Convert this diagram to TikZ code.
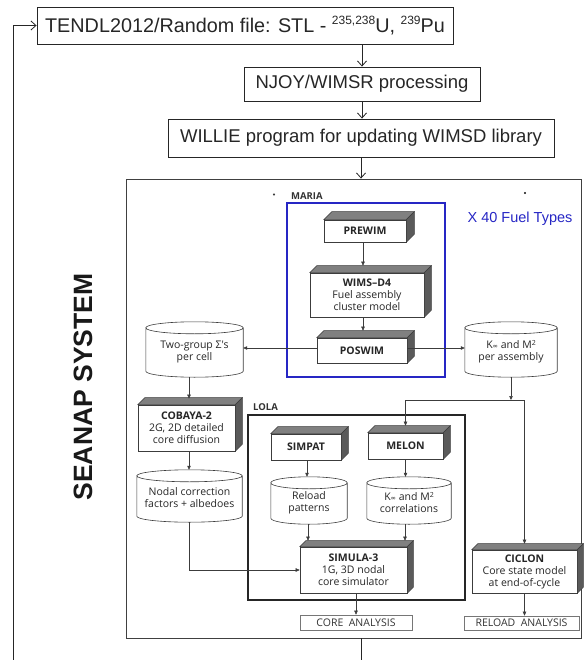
\documentclass[tikz,border=0pt]{standalone}
\usepackage{fontspec}
\setmainfont{Liberation Sans}
\newfontfamily\scanfont{Open Sans}
\newfontfamily\symfont{DejaVu Sans}
\usetikzlibrary{arrows.meta,calc}
\definecolor{mblue}{RGB}{38,38,196}
\definecolor{scanline}{RGB}{60,60,60}
\definecolor{topshade}{RGB}{128,128,128}
\definecolor{sideshade}{RGB}{90,90,90}
\newcommand{\kinf}{K{\symfont\fontsize{6.5}{7}\selectfont\raisebox{-0.5pt}{∞}}}
\newcommand{\msq}{M{\fontsize{7}{7}\selectfont\raisebox{2.5pt}{2}}}
\newcommand{\boxshade}[2][7]{%
  \filldraw[fill=topshade,draw=scanline,line width=0.5pt] (#2.north west) -- ++(#1,-#1) -- ($(#2.north east)+(#1,-#1)$) -- (#2.north east) -- cycle;
  \filldraw[fill=sideshade,draw=scanline,line width=0.5pt] (#2.north east) -- ++(#1,-#1) -- ($(#2.south east)+(#1,-#1)$) -- (#2.south east) -- cycle;}
\newcommand{\cylout}[1]{%
  \draw[draw=scanline,line width=0.6pt] let \p1=(#1.north west), \p2=(#1.south east), \n1={0.5*(\x2-\x1)} in
    ({\x1+\n1*1pt},{\y1-6pt}) ellipse [x radius={\n1*1pt}, y radius=6pt]
    (\x1,{\y1-6pt}) -- (\x1,{\y2+6pt}) arc[start angle=180, end angle=360, x radius={\n1*1pt}, y radius=6pt] -- (\x2,{\y1-6pt});}
\begin{document}
\begin{tikzpicture}[x=1pt,y=-1pt,
  topbox/.style={draw=black!85, line width=0.9pt, inner sep=0pt, font=\fontsize{18.5}{20}\selectfont, text=black!85},
  toparrow/.style={draw=black!85, line width=0.8pt, -{Straight Barb[length=5pt,width=9pt]}},
  scanbox/.style={draw=scanline, line width=0.6pt, fill=white, inner sep=0pt, align=center, font=\scanfont\fontsize{10.5}{12}\selectfont, text=black!85},
  cylnode/.style={inner sep=0pt, align=center, font=\scanfont\fontsize{10.5}{12}\selectfont, text=black!85},
  outbox/.style={draw=scanline!70, line width=0.6pt, inner sep=0pt, font=\scanfont\fontsize{10.5}{12}\selectfont, text=black!80},
  scanarrow/.style={draw=scanline, line width=0.5pt, -{Triangle[length=4pt,width=3.5pt]}},
  scanline/.style={draw=scanline, line width=0.5pt},
  lab/.style={font=\scanfont\bfseries\fontsize{9.5}{10}\selectfont, text=black!80, inner sep=0pt, anchor=west}]
\useasboundingbox (0,0) rectangle (584,660);

% top chain
\node[topbox, minimum width=416pt, minimum height=37pt, font=\fontsize{19.8}{21}\selectfont] (tendl) at (245,25.5)
  {TENDL2012/Random file: STL - \raisebox{0.42em}{\fontsize{12}{12}\selectfont 235,238}U, \raisebox{0.42em}{\fontsize{12}{12}\selectfont 239}Pu};
\node[topbox, minimum width=236pt, minimum height=34pt] (njoy) at (362,84) {NJOY/WIMSR processing};
\node[topbox, minimum width=386pt, minimum height=38pt] (willie) at (361,138) {WILLIE program for updating WIMSD library};

% SEANAP frame
\node[draw=black!75, line width=0.9pt, minimum width=455pt, minimum height=459pt, inner sep=0pt] (seanap) at (353.5,408.5) {};
\node[rotate=90, font=\bfseries\fontsize{26.5}{28}\selectfont, text=black!90] (seanaptxt) at (83,387) {SEANAP SYSTEM};

\draw[toparrow] (njoy.north |- tendl.south) -- (njoy.north);
\draw[toparrow] (njoy.south) -- (njoy.south |- willie.north);
\draw[toparrow] (willie.south) -- (willie.south |- seanap.north);
\coordinate (fbcorner) at (13,668);
\draw[toparrow] (willie.south |- seanap.south) -- (willie.south |- fbcorner) -- (fbcorner) |- (tendl.west);

% scan marks
\fill[scanline] (274,194.5) circle (0.8);
\fill[scanline] (525,193) circle (0.8);

% MARIA
\node[lab] (marialab) at (291,196) {MARIA};
\node[draw=mblue, line width=2.6pt, minimum width=158pt, minimum height=174pt, inner sep=0pt] (maria) at (366,290) {};
\node[text=mblue, font=\fontsize{14.5}{16}\selectfont, inner sep=0pt] (x40) at (520,219) {X 40 Fuel Types};

\node[scanbox, minimum width=82pt, minimum height=22pt] (prewim) at (365,231) {\bfseries PREWIM};
\boxshade[8]{prewim}
\node[scanbox, minimum width=114pt, minimum height=44pt] (wims) at (367,295) {\bfseries WIMS–D4\\Fuel assembly\\cluster model};
\boxshade[7]{wims}
\node[scanbox, minimum width=90pt, minimum height=25pt] (poswim) at (362,350.5) {\bfseries POSWIM};
\boxshade[7]{poswim}

\draw[scanarrow] (prewim.south -| 363,0) -- ($(363,0 |- wims.north)+(0,-7)$);
\draw[scanarrow] (wims.south -| 363,0) -- ($(363,0 |- poswim.north)+(0,-7)$);

\node[cylnode, minimum width=97pt, minimum height=55pt] (two) at (194.5,349.5) {\\Two-group Σ's\\per cell};
\cylout{two}
\node[cylnode, minimum width=92pt, minimum height=55pt] (kinf) at (511,349.5) {\\\kinf\ and \msq\\per assembly};
\cylout{kinf}
\draw[scanarrow] (poswim.west |- 0,348) -- (two.east |- 0,348);
\draw[scanarrow] (poswim.east |- 0,348) -- (kinf.west |- 0,348);

% COBAYA branch
\node[scanbox, minimum width=97pt, minimum height=46pt] (cobaya) at (186.5,428) {\bfseries COBAYA-2\\2G, 2D detailed\\core diffusion};
\boxshade[7]{cobaya}
\draw[scanarrow] (189,0 |- two.south) -- ($(189,0 |- cobaya.north)+(0,-6)$);
\node[cylnode, minimum width=105pt, minimum height=52pt] (nodal) at (189.5,496) {\\Nodal correction\\factors + albedoes};
\cylout{nodal}
\draw[scanarrow] (189,0 |- cobaya.south) -- (189,0 |- nodal.north);

% LOLA
\node[lab] (lolalab) at (253,407.5) {LOLA};
\node[draw=black!85, line width=1.5pt, minimum width=217pt, minimum height=185pt, inner sep=0pt] (lola) at (356.5,507.5) {};

\node[scanbox, minimum width=70pt, minimum height=26pt] (simpat) at (306,447) {\bfseries SIMPAT};
\boxshade[7]{simpat}
\node[scanbox, minimum width=75pt, minimum height=26pt] (melon) at (405.5,446) {\bfseries MELON};
\boxshade[7]{melon}
\node[cylnode, minimum width=76pt, minimum height=47pt] (reload) at (309,500.5) {\\Reload\\patterns};
\cylout{reload}
\node[cylnode, minimum width=84pt, minimum height=47pt] (corr) at (409,500.5) {\\\kinf\ and \msq\\correlations};
\cylout{corr}
\node[scanbox, minimum width=107pt, minimum height=46pt] (simula) at (353.5,570) {\bfseries SIMULA-3\\1G, 3D nodal\\core simulator};
\boxshade[6]{simula}

\draw[scanarrow] (307,0 |- simpat.south) -- (307,0 |- reload.north);
\draw[scanarrow] (melon.south) -- (melon.south |- corr.north);
\draw[scanarrow] (308,0 |- reload.south) -- ($(308,0 |- simula.north)+(0,-6)$);
\draw[scanarrow] (405,0 |- corr.south) -- ($(405,0 |- simula.north)+(0,-6)$);
\draw[scanarrow] (nodal.south) |- (simula.west);

% CICLON branch
\node[scanbox, minimum width=105pt, minimum height=43pt] (ciclon) at (524.5,571.5) {\bfseries CICLON\\Core state model\\at end-of-cycle};
\boxshade[6]{ciclon}
\coordinate (jn) at (511,400);
\draw[scanarrow] (kinf.south) -- (jn);
\draw[scanline, {Triangle[length=4pt,width=3.5pt]}-{Triangle[length=4pt,width=3.5pt]}]
  ($(melon.north)+(0,-7)$) -- (melon.north |- jn) -- (ciclon.north |- jn) -- ($(ciclon.north)+(0,-6)$);

% outputs
\node[outbox, minimum width=112pt, minimum height=15pt] (core) at (356,622.5) {CORE\ \ ANALYSIS};
\node[outbox, minimum width=115pt, minimum height=14pt] (reloadan) at (521.5,623) {RELOAD\ \ ANALYSIS};
\draw[scanarrow] (core.north |- simula.south) -- (core.north);
\draw[scanarrow] (ciclon.south) -- (ciclon.south |- reloadan.north);
\end{tikzpicture}
\end{document}
